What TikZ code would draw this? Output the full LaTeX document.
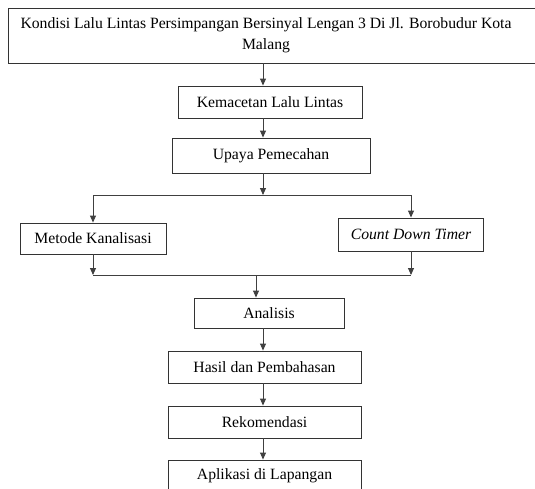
\documentclass[tikz,border=0pt]{standalone}
\usepackage{fontspec}
\setmainfont{Liberation Serif}
\usetikzlibrary{fit,calc,positioning,arrows.meta}
\tikzset{
    x=1pt, y=-1pt, % pixel like units, y going down
    >={Triangle[length=7pt,width=6pt]}, % small filled heads
    box/.style={draw=black!80, line width=0.9pt, inner sep=0pt, align=center}, % every step box
    link/.style={draw=black!75, line width=0.9pt}, % connectors
    every node/.style={font=\fontsize{15.7}{20.5}\selectfont},
}
\begin{document}
\begin{tikzpicture}
      \useasboundingbox (0,0) rectangle (535,488);
      \coordinate (q_spine) at (263,0);
      \node (q_kondisi) [align=center] at (266,35) {Kondisi Lalu Lintas Persimpangan Bersinyal Lengan 3 Di Jl. Borobudur Kota\\Malang};
      \node (q_kondisibox) [box, fit={(8,8) (548,63)}] {};
      \node (q_kemacetan) [box, minimum width=184, minimum height=32] at (270,102) {Kemacetan Lalu Lintas};
      \node (q_upaya) [box, minimum width=198, minimum height=35] at (271,155.5) {Upaya Pemecahan};
      \node (q_kanal) [box, minimum width=146, minimum height=31] at (93,238.5) {Metode Kanalisasi};
      \node (q_timer) [box, minimum width=145, minimum height=33] at (411,234.5) {\textit{Count Down Timer}};
      \node (q_analisis) [box, minimum width=150, minimum height=30] at (269,313) {Analisis};
      \node (q_hasil) [box, minimum width=193, minimum height=32] at (264.5,367) {Hasil dan Pembahasan};
      \node (q_rekomendasi) [box, minimum width=193, minimum height=32] at (264.5,422) {Rekomendasi};
      \node (q_aplikasi) [box, minimum width=193, minimum height=32] at (264.5,476) {Aplikasi di Lapangan};
      \coordinate (q_split) at (263,195);
      \coordinate (q_merge) at (256,275);
      \path[every edge/.style={link,->}]
      (q_kondisibox.south -| q_spine)  edge (q_kemacetan.north -| q_spine)
      (q_kemacetan.south -| q_spine)   edge (q_upaya.north -| q_spine)
      (q_upaya.south -| q_spine)       edge (q_split)
      (q_analisis.south -| q_spine)    edge (q_hasil.north -| q_spine)
      (q_hasil.south -| q_spine)       edge (q_rekomendasi.north -| q_spine)
      (q_rekomendasi.south -| q_spine) edge (q_aplikasi.north -| q_spine)
      ;
      \draw[link,->] (q_split) -| (q_kanal.north);
      \draw[link,->] (q_split) -| (q_timer.north);
      \draw[link,->] (q_kanal.south) -- (q_kanal.south |- q_merge);
      \draw[link,->] (q_timer.south) -- (q_timer.south |- q_merge);
      \draw[link] (q_kanal.south |- q_merge) -- (q_timer.south |- q_merge);
      \draw[link,->] (q_merge) -- (q_merge |- q_analisis.north);
    \end{tikzpicture}
\end{document}
